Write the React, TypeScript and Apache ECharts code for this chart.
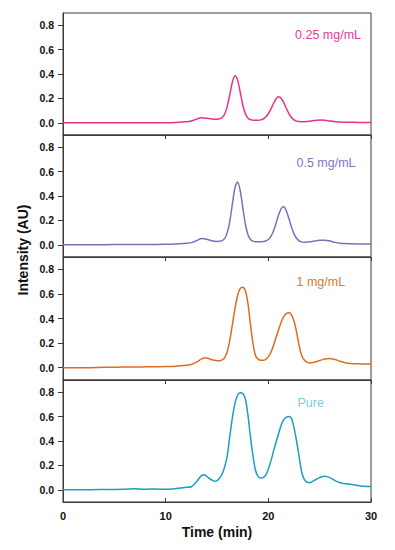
import React, { useEffect, useRef } from "react";
import * as echarts from "echarts";

const times = [0, 2, 4, 6, 7, 8, 9, 10, 11, 12, 12.5, 13, 13.5, 13.75, 14, 14.5, 14.75,
  15, 15.25, 15.5, 15.75, 16, 16.25, 16.5, 16.75, 17, 17.25, 17.5, 17.75, 18, 18.25, 18.5, 18.75,
  19, 19.25, 19.5, 19.75, 20, 20.25, 20.5, 20.75, 21, 21.25, 21.5, 21.75, 22, 22.25, 22.5, 22.75,
  23, 23.25, 23.5, 23.75, 24, 24.25, 24.5, 25, 25.5, 26, 26.5, 27, 27.5, 28, 29, 30];

const conc025 = [0, 0, 0, 0, 0, 0, 0.001, 0.001, 0.003, 0.008, 0.015, 0.03, 0.041, 0.04, 0.037, 0.031, 0.03,
  0.03, 0.033, 0.043, 0.072, 0.135, 0.232, 0.335, 0.386, 0.352, 0.256, 0.15, 0.077, 0.04, 0.026, 0.021, 0.02,
  0.021, 0.024, 0.031, 0.047, 0.074, 0.113, 0.158, 0.196, 0.214, 0.202, 0.166, 0.119, 0.076, 0.044, 0.024, 0.014,
  0.01, 0.009, 0.009, 0.011, 0.013, 0.016, 0.019, 0.022, 0.02, 0.014, 0.009, 0.006, 0.005, 0.004, 0.003, 0.003];

const conc05 = [0, 0, 0.001, 0.002, 0.002, 0.003, 0.003, 0.004, 0.007, 0.012, 0.018, 0.033, 0.051, 0.05, 0.045, 0.033, 0.029,
  0.028, 0.029, 0.034, 0.052, 0.1, 0.195, 0.336, 0.467, 0.514, 0.449, 0.312, 0.175, 0.087, 0.046, 0.03, 0.025,
  0.025, 0.025, 0.027, 0.031, 0.043, 0.069, 0.113, 0.176, 0.245, 0.297, 0.311, 0.279, 0.217, 0.147, 0.09, 0.054,
  0.033, 0.024, 0.021, 0.022, 0.024, 0.027, 0.031, 0.037, 0.038, 0.031, 0.02, 0.013, 0.01, 0.008, 0.007, 0.006];

const conc1 = [0, 0, 0.003, 0.006, 0.006, 0.007, 0.008, 0.009, 0.012, 0.02, 0.026, 0.045, 0.072, 0.079, 0.078, 0.065, 0.06,
  0.057, 0.056, 0.064, 0.082, 0.13, 0.225, 0.35, 0.48, 0.585, 0.643, 0.655, 0.63, 0.53, 0.36, 0.2, 0.1,
  0.07, 0.06, 0.06, 0.068, 0.09, 0.125, 0.18, 0.245, 0.31, 0.37, 0.415, 0.44, 0.447, 0.43, 0.38, 0.29,
  0.18, 0.1, 0.062, 0.045, 0.04, 0.041, 0.045, 0.058, 0.07, 0.074, 0.066, 0.052, 0.04, 0.034, 0.031, 0.03];

const pure = [0, 0, 0.002, 0.005, 0.008, 0.005, 0.007, 0.004, 0.01, 0.02, 0.025, 0.065, 0.118, 0.124, 0.11, 0.08, 0.07,
  0.075, 0.095, 0.13, 0.19, 0.28, 0.44, 0.59, 0.71, 0.775, 0.795, 0.79, 0.75, 0.62, 0.44, 0.28, 0.16,
  0.11, 0.097, 0.1, 0.12, 0.17, 0.235, 0.315, 0.39, 0.46, 0.53, 0.575, 0.595, 0.6, 0.585, 0.51, 0.4,
  0.27, 0.146, 0.085, 0.062, 0.058, 0.065, 0.078, 0.1, 0.112, 0.1, 0.075, 0.058, 0.05, 0.045, 0.032, 0.027];

const seriesNames = ["0.25 mg/mL", "0.5 mg/mL", "1 mg/mL", "Pure"];
const seriesValues = [conc025, conc05, conc1, pure];
const lineColors = ["#e8318b", "#7a70b9", "#e06b1c", "#1b9ec0"];
const labelColors = ["#e8399a", "#8176bd", "#e07628", "#7fcbe0"];
const yTicks = [0, 0.2, 0.4, 0.6, 0.8];
const xTitle = "Time (min)";
const yTitle = "Intensity (AU)";

const FONT = "'Liberation Sans', Arial, sans-serif";
const gridTops = [13, 135, 257, 380];
const gridHeights = [122, 122, 123, 122];
const labelPos = [
  [295, 34.5],
  [296.5, 163],
  [296.5, 281.5],
  [297.5, 402.5],
];

export default function App() {
  const ref = useRef<HTMLDivElement>(null);
  useEffect(() => {
    if (!ref.current) return;
    const chart = echarts.init(ref.current, null, { renderer: "svg" });
    const axisColor = "#3a3a3a";
    const grids = gridTops.map((top, i) => ({
      left: 63,
      width: 308,
      top,
      height: gridHeights[i],
      show: true,
      borderColor: axisColor,
      borderWidth: 1,
      backgroundColor: "transparent",
    }));
    const xAxes = gridTops.map((_, i) => ({
      gridIndex: i,
      type: "value",
      min: 0,
      max: 30,
      interval: 10,
      axisLine: { show: true, onZero: false, lineStyle: { color: axisColor, width: 1 } },
      axisTick: { show: true, inside: i === 3, length: 4, lineStyle: { color: axisColor } },
      axisLabel: {
        show: i === 3,
        fontFamily: FONT,
        fontWeight: "bold",
        fontSize: 11,
        color: "#111",
        margin: 8,
      },
      splitLine: { show: false },
      name: i === 3 ? xTitle : "",
      nameLocation: "middle",
      nameGap: 23,
      nameTextStyle: { fontFamily: FONT, fontWeight: "bold", fontSize: 14, color: "#111" },
    }));
    const yAxes = gridTops.map((_, i) => ({
      gridIndex: i,
      type: "value",
      min: -0.1,
      max: 0.9,
      axisLine: { show: true, onZero: false, lineStyle: { color: axisColor, width: 1 } },
      axisTick: { show: true, length: 5, customValues: yTicks, lineStyle: { color: axisColor } },
      axisLabel: {
        customValues: yTicks,
        formatter: (v: number) => v.toFixed(1),
        fontFamily: FONT,
        fontWeight: "bold",
        fontSize: 10.5,
        color: "#111",
        margin: 9,
      },
      splitLine: { show: false },
    }));
    const series = seriesValues.map((vals, i) => ({
      name: seriesNames[i],
      type: "line",
      xAxisIndex: i,
      yAxisIndex: i,
      data: times.map((t, k) => [t, vals[k]]),
      showSymbol: false,
      smooth: 0.3,
      lineStyle: { color: lineColors[i], width: 1.5 },
      itemStyle: { color: lineColors[i] },
    }));
    const graphics: any[] = seriesNames.map((name, i) => ({
      type: "text",
      x: labelPos[i][0],
      y: labelPos[i][1],
      style: {
        text: name,
        fill: labelColors[i],
        font: `12.5px ${FONT}`,
        textAlign: "left",
        textVerticalAlign: "middle",
      },
    }));
    graphics.push({
      type: "text",
      x: 23,
      y: 250,
      rotation: Math.PI / 2,
      style: {
        text: yTitle,
        fill: "#111",
        font: `bold 14px ${FONT}`,
        textAlign: "center",
        textVerticalAlign: "middle",
      },
    });
    chart.setOption({
      animation: false,
      backgroundColor: "#ffffff",
      grid: grids,
      xAxis: xAxes,
      yAxis: yAxes,
      series,
      graphic: graphics,
    });
    return () => chart.dispose();
  }, []);
  return (
    <div
      ref={ref}
      style={{ position: "fixed", left: 0, top: 0, width: 395, height: 550, background: "#fff" }}
    />
  );
}
